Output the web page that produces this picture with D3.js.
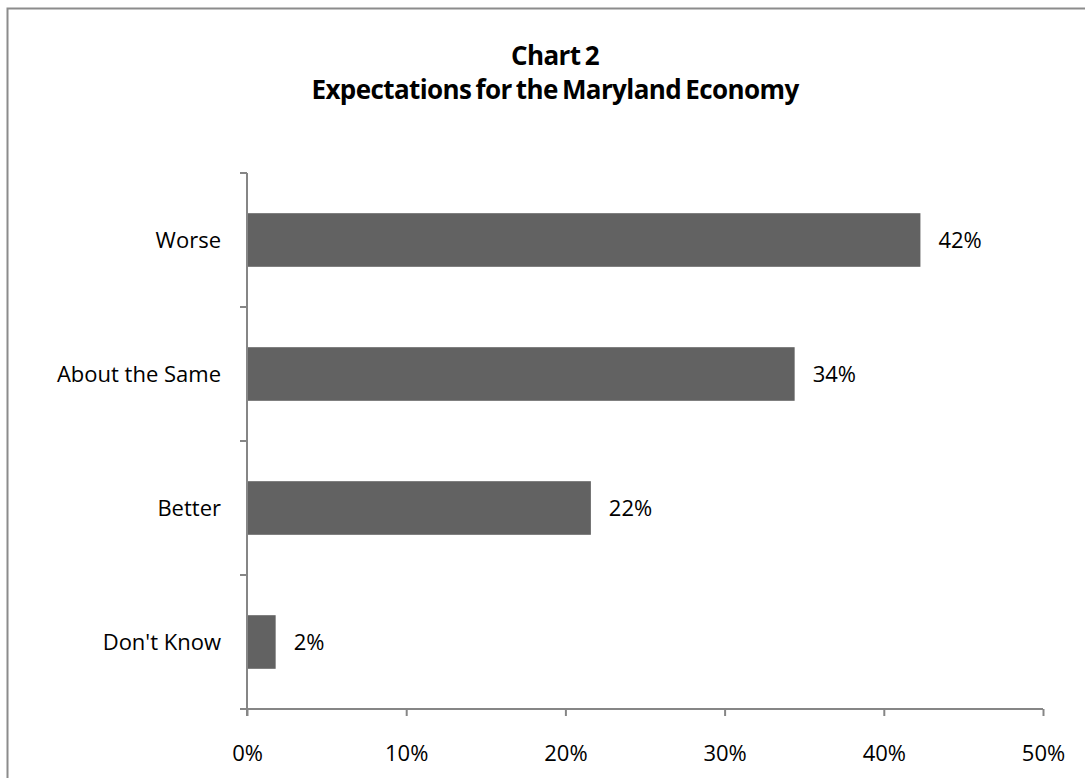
<!DOCTYPE html>
<html lang="en">
<head>
    <meta charset="UTF-8">
    <title>Chart 2</title>
    <script src="https://d3js.org/d3.v7.min.js"></script>
    <style>
        html, body { margin: 0; padding: 0; background: #fff; overflow: hidden; }
        svg { display: block; }
        text { font-family: "Open Sans", "Noto Sans", sans-serif; fill: #000; }
    </style>
</head>
<body>
<svg width="1085" height="778"></svg>
<script>

    const categories = ["Worse", "About the Same", "Better", "Don't Know"];
    const values     = [42.3, 34.4, 21.6, 1.8];
    const valueLabels = ["42%", "34%", "22%", "2%"];
    const xTicks     = [0, 10, 20, 30, 40, 50];
    const titleLines = ["Chart 2", "Expectations for the Maryland Economy"];

    const w = 1085, h = 778;
    const plotL = 247, plotR = 1043, plotT = 173, plotB = 709;
    const axisColor = "#868686", barColor = "#626262";
    const fs = 22;

    const svg = d3.select("svg");

    // chart frame, runs off the right and bottom edges
    svg.append("rect")
        .attr("x", 7.5).attr("y", 8.5)
        .attr("width", w + 20).attr("height", h + 20)
        .attr("fill", "none")
        .attr("stroke", "#8c8c8c")
        .attr("stroke-width", 2);

    svg.append("g")
        .selectAll("text")
        .data(titleLines)
        .enter()
        .append("text")
        .attr("x", 555)
        .attr("y", (d, i) => 65 + i * 34)
        .attr("text-anchor", "middle")
        .attr("font-size", 26)
        .attr("font-weight", "bold")
        .attr("letter-spacing", -0.6)
        .attr("word-spacing", -2)
        .text(d => d);

    const x = d3.scaleLinear().domain([0, 50]).range([plotL, plotR]);
    const y = d3.scaleBand().domain(categories).range([plotT, plotB])
        .paddingInner(0.6).paddingOuter(0.3);

    // bars
    svg.append("g")
        .selectAll("rect.bar")
        .data(categories)
        .enter()
        .append("rect")
        .attr("class", "bar")
        .attr("x", x(0))
        .attr("y", d => y(d))
        .attr("width", (d, i) => x(values[i]) - x(0))
        .attr("height", y.bandwidth())
        .attr("fill", barColor);

    // value labels
    svg.append("g")
        .selectAll("text")
        .data(categories)
        .enter()
        .append("text")
        .attr("x", (d, i) => x(values[i]) + 18)
        .attr("y", d => y(d) + y.bandwidth() / 2)
        .attr("dy", "0.35em")
        .attr("font-size", fs)
        .text((d, i) => valueLabels[i]);

    // x axis
    const xAxis = svg.append("g")
        .attr("transform", `translate(0,${plotB})`)
        .call(d3.axisBottom(x).tickValues(xTicks).tickFormat(d => d + "%").tickSize(7).tickPadding(29));
    xAxis.select(".domain").attr("stroke", axisColor).attr("stroke-width", 2)
        .attr("d", `M${plotL},0H${plotR}`);
    xAxis.selectAll(".tick line").attr("stroke", axisColor).attr("stroke-width", 2);
    xAxis.selectAll(".tick text").attr("font-size", fs).attr("font-family", null).attr("fill", "#000");

    // y axis: ticks sit on the band boundaries
    const bounds = d3.range(categories.length + 1).map(i => plotT + i * y.step());
    const yAxis = svg.append("g");
    yAxis.append("line")
        .attr("x1", plotL).attr("x2", plotL)
        .attr("y1", plotT).attr("y2", plotB + 7)
        .attr("stroke", axisColor).attr("stroke-width", 2);
    yAxis.selectAll("line.tick")
        .data(bounds)
        .enter()
        .append("line")
        .attr("class", "tick")
        .attr("x1", plotL - 7).attr("x2", plotL)
        .attr("y1", d => d).attr("y2", d => d)
        .attr("stroke", axisColor).attr("stroke-width", 2);
    yAxis.selectAll("text")
        .data(categories)
        .enter()
        .append("text")
        .attr("x", 221)
        .attr("y", d => y(d) + y.bandwidth() / 2)
        .attr("dy", "0.35em")
        .attr("text-anchor", "end")
        .attr("font-size", fs)
        .text(d => d);

</script>
</body>
</html>
